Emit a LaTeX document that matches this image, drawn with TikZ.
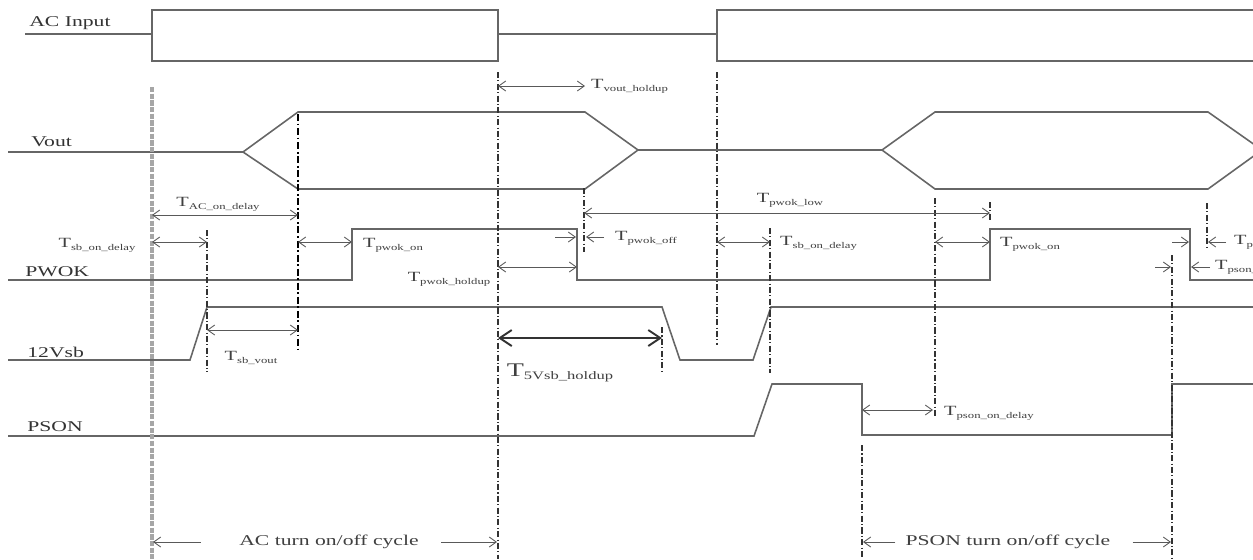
\documentclass[tikz,border=0pt]{standalone}
\usepackage{fontspec}
\setmainfont{Liberation Serif}[FakeStretch=1.45]
\usetikzlibrary{arrows.meta}
\newcommand{\tlab}[1]{{\fontsize{8}{9}\selectfont T}\raisebox{-0.35ex}{\fontsize{5}{6}\selectfont #1}}

\begin{document}
\begin{tikzpicture}[x=0.02cm,y=-0.02cm,
  sig/.style={black!60,line width=0.9pt,line join=miter},
  tmark/.style={black!80,line width=0.6pt,dash pattern=on 3.5pt off 1.3pt on 0.6pt off 1.3pt},
  heavymark/.style={black,line width=1.6pt,dash pattern=on 4pt off 1.5pt on 1pt off 1.5pt},
  greymark/.style={black!35,line width=1.8pt,dash pattern=on 3pt off 0.8pt},
  span/.style={{Straight Barb[length=1.4mm,width=2mm]}-{Straight Barb[length=1.4mm,width=2mm]},
               black!65,line width=0.5pt},
  bigspan/.style={{Straight Barb[length=2.4mm,width=3.2mm]}-{Straight Barb[length=2.4mm,width=3.2mm]},
               black!80,line width=1.1pt},
  pin/.style={-{Straight Barb[length=1.4mm,width=2mm]},black!65,line width=0.5pt},
  signame/.style={font=\fontsize{8.5}{10}\selectfont,text=black!80,inner sep=0pt,anchor=west},
  tlbl/.style={inner sep=1pt,text=black!75},
  cyc/.style={font=\fontsize{8.5}{10}\selectfont,text=black!75,inner sep=0pt}
]
  \useasboundingbox (0,0) rectangle (1253,559);
  \clip (0,0) rectangle (1253,559);

  % signal names
  \node[signame] (acin) at (29,23) {AC Input};
  \node[signame] (vout) at (31,142) {Vout};
  \node[signame] (pwok) at (25,272) {PWOK};
  \node[signame] (vsb) at (27,352) {12Vsb};
  \node[signame] (pson) at (27,427) {PSON};

  % AC input
  \draw[sig] (25,34) -- (152,34);
  \draw[sig] (152,34) -- (152,10) -- (498,10) -- (498,61) -- (152,61) -- (152,34);
  \draw[sig] (498,34) -- (717,34);
  \draw[sig] (1253,10) -- (717,10) -- (717,61) -- (1253,61);

  % Vout
  \draw[sig] (8,152) -- (243,152) -- (298,112) -- (585,112) -- (638,150)
    -- (882,150) -- (935,112) -- (1208,112) -- (1262,150);
  \draw[sig] (243,152) -- (298,189) -- (585,189) -- (638,150);
  \draw[sig] (882,150) -- (935,189) -- (1208,189) -- (1262,150);

  % PWOK
  \draw[sig] (8,280) -- (352,280) -- (352,229) -- (577,229) -- (577,280)
    -- (990,280) -- (990,229) -- (1190,229) -- (1190,280) -- (1253,280);

  % 12Vsb
  \draw[sig] (8,360) -- (190,360) -- (207,307) -- (662,307) -- (680,360)
    -- (753,360) -- (771,307) -- (1253,307);

  % PSON
  \draw[sig] (8,436) -- (754,436) -- (772,384) -- (862,384) -- (862,435)
    -- (1172,435) -- (1172,384) -- (1253,384);

  % timing marks
  \draw[greymark] (152,87) -- (152,559);
  \draw[heavymark] (298,114) -- (298,350);
  \draw[tmark] (207,230) -- (207,372);
  \draw[tmark] (498,72) -- (498,559);
  \draw[tmark] (584,188) -- (584,252);
  \draw[tmark] (717,72) -- (717,345);
  \draw[tmark] (662,327) -- (662,372);
  \draw[tmark] (770,228) -- (770,373);
  \draw[tmark] (935,198) -- (935,418);
  \draw[tmark] (990,202) -- (990,222);
  \draw[tmark] (1172,255) -- (1172,559);
  \draw[tmark] (1207,203) -- (1207,250);
  \draw[tmark] (862,445) -- (862,559);

  % intervals
  \draw[span] (152,215) -- (298,215);
  \node[tlbl] (tacon) at (218,204) {\tlab{AC\_on\_delay}};
  \draw[span] (152,242) -- (207,242);
  \node[tlbl] (tsbon) at (97,245) {\tlab{sb\_on\_delay}};
  \draw[span] (207,330) -- (298,330);
  \node[tlbl] (tsbvout) at (251,358) {\tlab{sb\_vout}};
  \draw[span] (298,242) -- (352,242);
  \node[tlbl,anchor=west] (tpwokon) at (361,245) {\tlab{pwok\_on}};
  \draw[span] (498,86) -- (585,86);
  \node[tlbl,anchor=west] (tvhold) at (589,86) {\tlab{vout\_holdup}};
  \draw[span] (498,267) -- (577,267);
  \node[tlbl] (tpwhold) at (449,279) {\tlab{pwok\_holdup}};
  \draw[pin] (555,237) -- (576,237);
  \draw[pin] (604,237) -- (586,237);
  \node[tlbl,anchor=west] (tpwoff) at (613,238) {\tlab{pwok\_off}};
  \draw[span] (584,213) -- (990,213);
  \node[tlbl] (tpwlow) at (790,200) {\tlab{pwok\_low}};
  \draw[span] (717,242) -- (770,242);
  \node[tlbl,anchor=west] (tsbon2) at (778,243) {\tlab{sb\_on\_delay}};
  \draw[bigspan] (498,338) -- (662,338);
  \node[tlbl] (t5vsb) at (560,373)
    {{\fontsize{11}{12}\selectfont T}\raisebox{-0.45ex}{\fontsize{6.5}{7}\selectfont 5Vsb\_holdup}};
  \draw[span] (935,242) -- (990,242);
  \node[tlbl,anchor=west] (tpwokon2) at (998,244) {\tlab{pwok\_on}};
  \draw[pin] (1172,242) -- (1189,242);
  \draw[pin] (1226,242) -- (1208,242);
  \node[tlbl,anchor=west] (tpwoff2) at (1232,242) {\tlab{pwok\_off}};
  \draw[pin] (1155,267) -- (1171,267);
  \draw[pin] (1210,267) -- (1191,267);
  \node[tlbl,anchor=west] (tpsonpw) at (1213,267) {\tlab{pson\_pwok}};
  \draw[span] (862,410) -- (933,410);
  \node[tlbl,anchor=west] (tpsondly) at (942,413) {\tlab{pson\_on\_delay}};

  % on/off cycles
  \node[cyc] (accyc) at (329,542) {AC turn on/off cycle};
  \draw[pin] (accyc.west) ++(-38,0) -- (153,542);
  \draw[pin] (accyc.east) ++(22,0) -- (497,542);
  \node[cyc] (psoncyc) at (1008,542) {PSON turn on/off cycle};
  \draw[pin] (psoncyc.west) ++(-10,0) -- (863,542);
  \draw[pin] (psoncyc.east) ++(22,0) -- (1171,542);
\end{tikzpicture}
\end{document}
